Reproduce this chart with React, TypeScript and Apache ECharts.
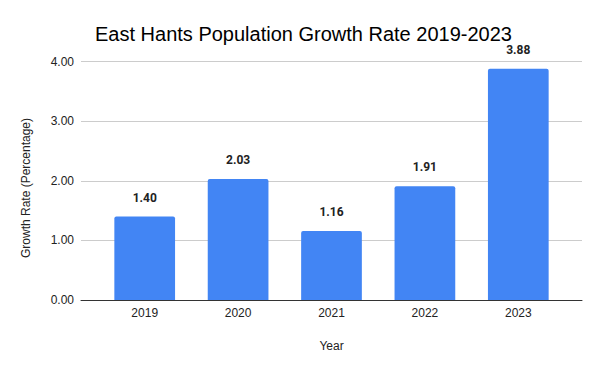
import React, { useEffect, useRef } from "react";
import * as echarts from "echarts";

const years = ["2019", "2020", "2021", "2022", "2023"];
const growthRates = [1.4, 2.03, 1.16, 1.91, 3.88];
const titleText = "East Hants Population Growth Rate 2019-2023";
const xAxisTitle = "Year";
const yAxisTitle = "Growth Rate (Percentage)";

const FONT = "'Liberation Sans', Arial, sans-serif";
const LABEL_FONT = "Roboto, 'Noto Sans', Arial, sans-serif";

export default function App() {
  const ref = useRef<HTMLDivElement>(null);
  useEffect(() => {
    document.body.style.margin = "0";
    const chart = echarts.init(ref.current!, null, { renderer: "svg" });
    const top = 61.7;
    const bottom = 71;
    chart.setOption({
      animation: false,
      backgroundColor: "#ffffff",
      textStyle: { fontFamily: FONT },
      title: {
        text: titleText,
        left: 90,
        top: 19,
        textStyle: { fontFamily: FONT, fontSize: 20, fontWeight: "normal", color: "#000000" },
      },
      grid: [
        { left: 81, right: 18, top, bottom },
        { left: 98, right: 35, top, bottom },
      ],
      xAxis: [
        {
          gridIndex: 0,
          type: "value",
          min: 0,
          max: 1,
          axisLine: { show: true, onZero: false, lineStyle: { color: "#333333", width: 1 } },
          axisTick: { show: false },
          axisLabel: { show: false },
          splitLine: { show: false },
        },
        {
          gridIndex: 1,
          type: "category",
          data: years,
          axisLine: { show: false },
          axisTick: { show: false },
          axisLabel: { margin: 7, fontSize: 12, color: "#222222", fontFamily: FONT },
          name: xAxisTitle,
          nameLocation: "middle",
          nameGap: 40,
          nameTextStyle: { fontSize: 12, color: "#222222", fontFamily: FONT },
        },
      ],
      yAxis: [
        {
          gridIndex: 0,
          type: "value",
          min: 0,
          max: 4,
          interval: 1,
          axisLine: { show: false },
          axisTick: { show: false },
          axisLabel: {
            margin: 7,
            fontSize: 12,
            color: "#222222",
            fontFamily: FONT,
            formatter: (v: number) => v.toFixed(2),
          },
          splitLine: { show: true, lineStyle: { color: "#cccccc", width: 1 } },
        },
        {
          gridIndex: 1,
          type: "value",
          min: 0,
          max: 4,
          interval: 1,
          show: false,
          splitLine: { show: false },
        },
      ],
      graphic: [
        {
          type: "text",
          x: 26,
          y: 188,
          rotation: Math.PI / 2,
          style: {
            text: yAxisTitle,
            fontSize: 12,
            fontFamily: FONT,
            fill: "#222222",
            textAlign: "center",
            textVerticalAlign: "middle",
          },
        },
      ],
      series: [
        {
          type: "bar",
          xAxisIndex: 1,
          yAxisIndex: 1,
          data: growthRates,
          barWidth: "65%",
          itemStyle: { color: "#4285F4", borderRadius: [2, 2, 0, 0] },
          label: {
            show: true,
            position: "top",
            distance: 13,
            fontSize: 12,
            fontWeight: "bold",
            color: "#222222",
            fontFamily: LABEL_FONT,
            formatter: (p: any) => Number(p.value).toFixed(2),
          },
        },
      ],
    });
    return () => chart.dispose();
  }, []);
  return <div ref={ref} style={{ width: 600, height: 371 }} />;
}
